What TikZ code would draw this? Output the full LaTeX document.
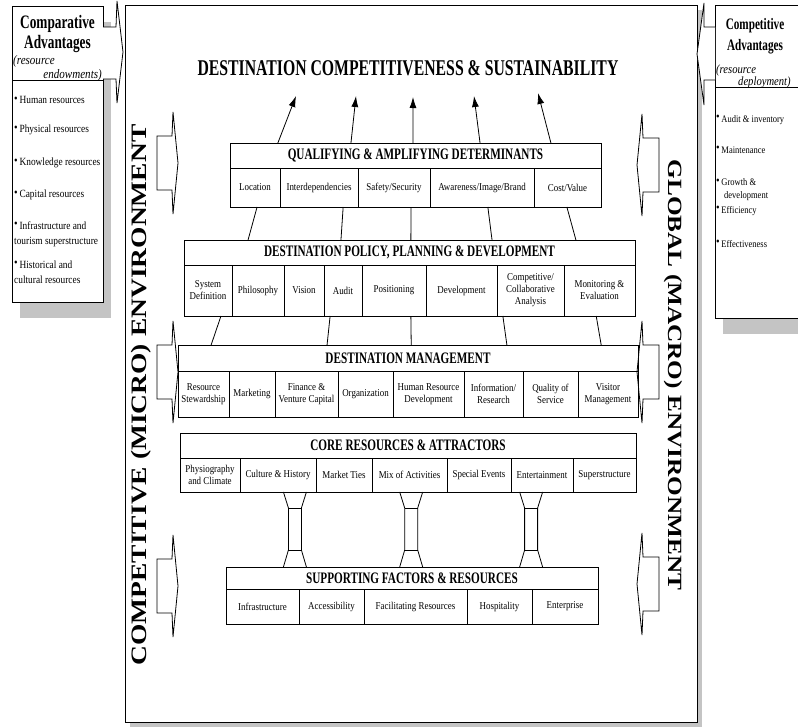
\documentclass[tikz,border=0pt]{standalone}
\usepackage{fontspec}
\setmainfont[FakeStretch=0.85]{Liberation Serif}
\newfontfamily\hdfont[FakeStretch=0.7]{Liberation Serif}
\newfontfamily\vfont[FakeStretch=1.25]{Liberation Serif}
\usetikzlibrary{arrows.meta, positioning, calc, shadows}

\newcommand{\itm}{\raisebox{1.5pt}{\fontsize{12}{12}\selectfont\textbullet}\,}

\begin{document}
\begin{tikzpicture}[
    x=1pt, y=-1pt,
    >={Latex[length=11pt,width=7pt]},
    node distance=0pt,
    font=\fontsize{10.5}{12}\selectfont
]

\definecolor{shade}{HTML}{C4C4C4}

\tikzset{
    envbox/.style={
        draw, line width=0.9pt, fill=white,
        inner sep=0pt, outer sep=0pt, anchor=north west,
        drop shadow={shadow xshift=5pt, shadow yshift=-5pt, fill=shade, opacity=1}
    },
    sidebox/.style={
        draw, line width=0.9pt, fill=white,
        inner sep=0pt, outer sep=0pt, anchor=north west,
        drop shadow={shadow xshift=8pt, shadow yshift=-16pt, fill=shade, opacity=1}
    },
    hd/.style={
        draw, line width=0.9pt, inner sep=0pt, outer sep=0pt,
        anchor=north west,
        font=\hdfont\bfseries\fontsize{16}{16}\selectfont
    },
    cell/.style={
        draw, line width=0.9pt, inner sep=1pt, outer sep=0pt,
        align=center, minimum height=#1
    },
    lbul/.style={anchor=west, inner sep=0pt, align=left, font=\fontsize{11}{15}\selectfont},
    rbul/.style={anchor=west, inner sep=0pt, align=left, font=\fontsize{10}{13}\selectfont},
    sub/.style={inner sep=0pt, font=\itshape\fontsize{13}{13}\selectfont},
    blk/.style={draw, line width=0.8pt, fill=white},
    link/.style={draw, line width=0.8pt},
    up/.style={->, line width=0.8pt}
}

\useasboundingbox (0,0) rectangle (798,726);
\clip (0,0) rectangle (798,726);

% Frame and side boxes
\node[envbox, minimum width=572pt, minimum height=717pt] (env) at (125,5) {};

\node[sidebox, minimum width=91pt, minimum height=74pt] (cahead) at (12,6) {};
\node[sidebox, minimum width=91pt, minimum height=222pt, below=of cahead] (calist) {};
\node[sidebox, minimum width=100pt, minimum height=82pt] (cbhead) at (715,5) {};
\node[sidebox, minimum width=100pt, minimum height=231pt, below=of cbhead] (cblist) {};

\draw[blk] ($(cahead.north east)+(0,21)$) -- ++(13,0) -- ++(1,-26) -- ++(6,51)
    -- ++(-6,51) -- ++(-1,-24) -- ++(-13,0);
\draw[blk] ($(cbhead.north west)+(0,22)$) -- ++(-11,0) -- ++(0,-24) -- ++(-7,51)
    -- ++(7,51) -- ++(0,-25) -- ++(11,0);

% Comparative advantages
\node[align=center, inner sep=0pt, font=\hdfont\bfseries\fontsize{19}{20}\selectfont] (catitle) at (57.5,34) {Comparative\\Advantages};
\node[sub, anchor=west] (cares) at (13,61) {(resource};
\node[sub, anchor=east] (caend) at (102,75) {endowments)};
\node[lbul] (ca1) at (14,100) {\itm Human resources};
\node[lbul] (ca2) at (14,130) {\itm Physical resources};
\node[lbul] (ca3) at (14,163) {\itm Knowledge resources};
\node[lbul] (ca4) at (14,195) {\itm Capital resources};
\node[lbul] (ca5) at (14,234) {\itm Infrastructure and\\tourism superstructure};
\node[lbul] (ca6) at (14,272) {\itm Historical and\\cultural resources};

% Competitive advantages
\node[align=center, inner sep=0pt, font=\hdfont\bfseries\fontsize{16}{21}\selectfont] (cbtitle) at (755,36) {Competitive\\Advantages};
\node[sub, anchor=west, font=\itshape\fontsize{12.5}{12.5}\selectfont] (cbres) at (716,70) {(resource};
\node[sub, anchor=west, font=\itshape\fontsize{12.5}{12.5}\selectfont] (cbdep) at (738,83) {deployment)};
\node[rbul] (cb1) at (716,120) {\itm Audit \& inventory};
\node[rbul] (cb2) at (716,150) {\itm Maintenance};
\node[rbul] (cb3) at (716,190) {\itm Growth \&\\\hspace*{8pt}development};
\node[rbul] (cb4) at (716,211) {\itm Efficiency};
\node[rbul] (cb5) at (716,244) {\itm Effectiveness};

% Environment arrows
\foreach \yc in {163,372,586}
    \draw[blk] (157,\yc-27) -- (172,\yc-27) -- (173,\yc-51) -- (178,\yc)
        -- (173,\yc+51) -- (172,\yc+27) -- (157,\yc+27) -- cycle;
\foreach \yc in {165,372,584}
    \draw[blk] (659,\yc-27) -- (643,\yc-27) -- (642,\yc-51) -- (637,\yc)
        -- (642,\yc+51) -- (643,\yc+27) -- (659,\yc+27) -- cycle;

\node[rotate=90, inner sep=0pt, font=\vfont\bfseries\fontsize{22}{22}\selectfont] (micro) at (141,395) {COMPETITIVE (MICRO) ENVIRONMENT};
\node[rotate=-90, inner sep=0pt, font=\vfont\bfseries\fontsize{20.2}{20.2}\selectfont] (macro) at (673,375) {GLOBAL (MACRO) ENVIRONMENT};

% Title
\node[inner sep=0pt, font=\hdfont\bfseries\fontsize{22.5}{22.5}\selectfont] (title) at (408,68) {DESTINATION COMPETITIVENESS \& SUSTAINABILITY};

% Qualifying & amplifying determinants
\node[hd, minimum width=371pt, minimum height=25pt] (qad) at (230,143) {QUALIFYING \& AMPLIFYING DETERMINANTS};
\node[cell=39pt, minimum width=50pt, below right=0pt and 0pt of qad.south west] (q1) {Location};
\node[cell=39pt, minimum width=78pt, right=of q1] (q2) {Interdependencies};
\node[cell=39pt, minimum width=72pt, right=of q2] (q3) {Safety/Security};
\node[cell=39pt, minimum width=104pt, right=of q3] (q4) {Awareness/Image/Brand};
\node[cell=39pt, minimum width=67pt, right=of q4] (q5) {Cost/Value};

% Destination policy, planning & development
\node[hd, minimum width=451pt, minimum height=25pt] (ppd) at (184,240) {DESTINATION POLICY, PLANNING \& DEVELOPMENT};
\node[cell=51pt, minimum width=48pt, below right=0pt and 0pt of ppd.south west] (p1) {System\\Definition};
\node[cell=51pt, minimum width=52pt, right=of p1] (p2) {Philosophy};
\node[cell=51pt, minimum width=40pt, right=of p2] (p3) {Vision};
\node[cell=51pt, minimum width=38pt, right=of p3] (p4) {Audit};
\node[cell=51pt, minimum width=64pt, right=of p4] (p5) {Positioning};
\node[cell=51pt, minimum width=71pt, right=of p5] (p6) {Development};
\node[cell=51pt, minimum width=67pt, right=of p6] (p7) {Competitive/\\Collaborative\\Analysis};
\node[cell=51pt, minimum width=71pt, right=of p7] (p8) {Monitoring \&\\Evaluation};

% Destination management
\node[hd, minimum width=460pt, minimum height=26pt] (dm) at (178,345) {DESTINATION MANAGEMENT};
\node[cell=46pt, minimum width=51pt, below right=0pt and 0pt of dm.south west] (m1) {Resource\\Stewardship};
\node[cell=46pt, minimum width=46pt, right=of m1] (m2) {Marketing};
\node[cell=46pt, minimum width=63pt, right=of m2] (m3) {Finance \&\\Venture Capital};
\node[cell=46pt, minimum width=55pt, right=of m3] (m4) {Organization};
\node[cell=46pt, minimum width=71pt, right=of m4] (m5) {Human Resource\\Development};
\node[cell=46pt, minimum width=59pt, right=of m5] (m6) {Information/\\Research};
\node[cell=46pt, minimum width=55pt, right=of m6] (m7) {Quality of\\Service};
\node[cell=46pt, minimum width=60pt, right=of m7] (m8) {Visitor\\Management};

% Core resources & attractors
\node[hd, minimum width=456pt, minimum height=25pt] (cra) at (180,433) {CORE RESOURCES \& ATTRACTORS};
\node[cell=34pt, minimum width=60pt, below right=0pt and 0pt of cra.south west] (c1) {Physiography\\and Climate};
\node[cell=34pt, minimum width=76pt, right=of c1] (c2) {Culture \& History};
\node[cell=34pt, minimum width=56pt, right=of c2] (c3) {Market Ties};
\node[cell=34pt, minimum width=75pt, right=of c3] (c4) {Mix of Activities};
\node[cell=34pt, minimum width=64pt, right=of c4] (c5) {Special Events};
\node[cell=34pt, minimum width=62pt, right=of c5] (c6) {Entertainment};
\node[cell=34pt, minimum width=63pt, right=of c6] (c7) {Superstructure};

% Supporting factors & resources
\node[hd, minimum width=372pt, minimum height=22pt] (sfr) at (226,567) {SUPPORTING FACTORS \& RESOURCES};
\node[cell=35pt, minimum width=73pt, below right=0pt and 0pt of sfr.south west] (s1) {Infrastructure};
\node[cell=35pt, minimum width=65pt, right=of s1] (s2) {Accessibility};
\node[cell=35pt, minimum width=103pt, right=of s2] (s3) {Facilitating Resources};
\node[cell=35pt, minimum width=65pt, right=of s3] (s4) {Hospitality};
\node[cell=35pt, minimum width=66pt, right=of s4] (s5) {Enterprise};

% Links
\coordinate (tip1) at (296,96);
\coordinate (tip2) at (356,96);
\coordinate (tip3) at (413,97);
\coordinate (tip4) at (474,96);
\coordinate (tip5) at (538,93);
\foreach \f/\t in {0.129/tip1, 0.326/tip2, 0.493/tip3, 0.674/tip4, 0.865/tip5}
    \draw[up] ($(qad.north west)!\f!(qad.north east)$) -- (\t);

\foreach \f/\g in {0.073/0.142, 0.305/0.348, 0.488/0.503, 0.695/0.683, 0.908/0.869}
    \draw[link] ($(q1.south west)!\f!(q5.south east)$) -- ($(ppd.north west)!\g!(ppd.north east)$);
\foreach \f/\g in {0.082/0.072, 0.324/0.324, 0.503/0.507, 0.707/0.715, 0.914/0.920}
    \draw[link] ($(p1.south west)!\f!(p8.south east)$) -- ($(dm.north west)!\g!(dm.north east)$);

% Pillars
\foreach \f in {0.252, 0.507, 0.770} {
    \coordinate (ptop) at ($(c1.south west)!\f!(c7.south east)$);
    \draw[link] (ptop) ++(-11.5,0) -- ++(5,16) -- ++(0,42) -- ++(-5,17);
    \draw[link] (ptop) ++(11.5,0) -- ++(-5,16) -- ++(0,42) -- ++(5,17);
    \draw[link] (ptop) ++(-6.5,16) -- ++(13,0) ++(0,42) -- ++(-13,0);
}

\end{tikzpicture}
\end{document}
